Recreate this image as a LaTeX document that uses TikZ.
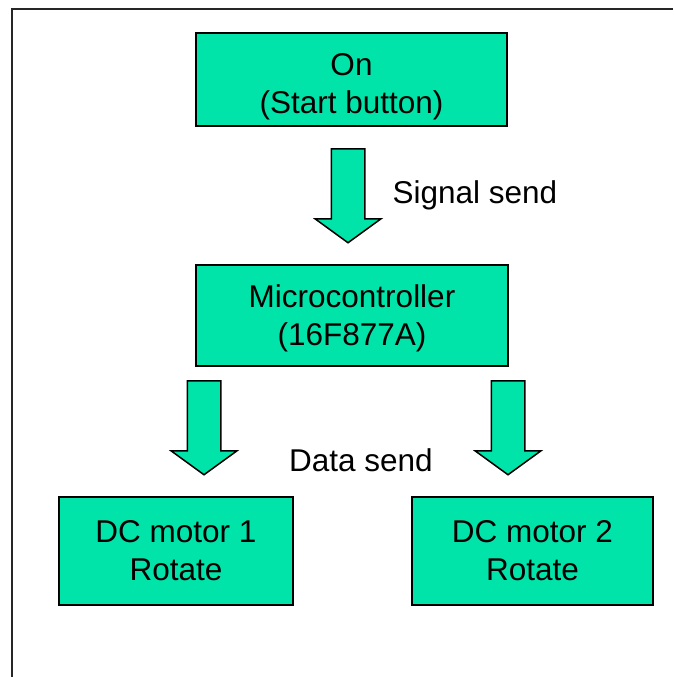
\documentclass[tikz,border=0pt]{standalone}
\usepackage{fontspec}
\setmainfont{Liberation Sans}
\usepackage{tikz}
\usetikzlibrary{shapes.arrows}

\definecolor{boxgreen}{RGB}{0,228,170}

\begin{document}
\begin{tikzpicture}[x=1pt,y=-1pt,
  bloc/.style={draw,line width=1.5pt,fill=boxgreen,align=center,
    font=\fontsize{31.5}{38}\selectfont,inner sep=0pt},
  fleche/.style={single arrow,draw,line width=1.5pt,fill=boxgreen,
    shape border rotate=270,inner sep=16pt,minimum height=94pt,
    minimum width=64pt,single arrow head extend=16pt,
    single arrow tip angle=108,anchor=tail},
  etiq/.style={font=\fontsize{31.5}{38}\selectfont,inner sep=0pt}]
  \useasboundingbox (0,0) rectangle (673,677) ;
  \draw[line width=1.5pt,black!85] (673,9) -- (12,9) -- (12,677) ;

  % les blocs
  \node[bloc,minimum width=311pt,minimum height=93pt] (on) at (351.5,79.5)
    {\rule{0pt}{36pt}On\\(Start button)} ;
  \node[bloc,minimum width=312pt,minimum height=101pt] (mcu) at (352,315.5)
    {\rule{0pt}{28pt}Microcontroller\\(16F877A)} ;
  \node[bloc,minimum width=234pt,minimum height=108pt] (mot1) at (176,551)
    {DC motor 1\\Rotate} ;
  \node[bloc,minimum width=241pt,minimum height=108pt] (mot2) at (532.5,551)
    {DC motor 2\\Rotate} ;

  % les fleches
  \node[fleche] (sig) at (348,148) {} ;
  \node[fleche] (datg) at (204,380) {} ;
  \node[fleche] (datd) at (508,380) {} ;

  \node[etiq] (lsig) at (475,195) {Signal send} ;
  \node[etiq] (ldat) at (361,460) {Data send} ;

\end{tikzpicture}
\end{document}
